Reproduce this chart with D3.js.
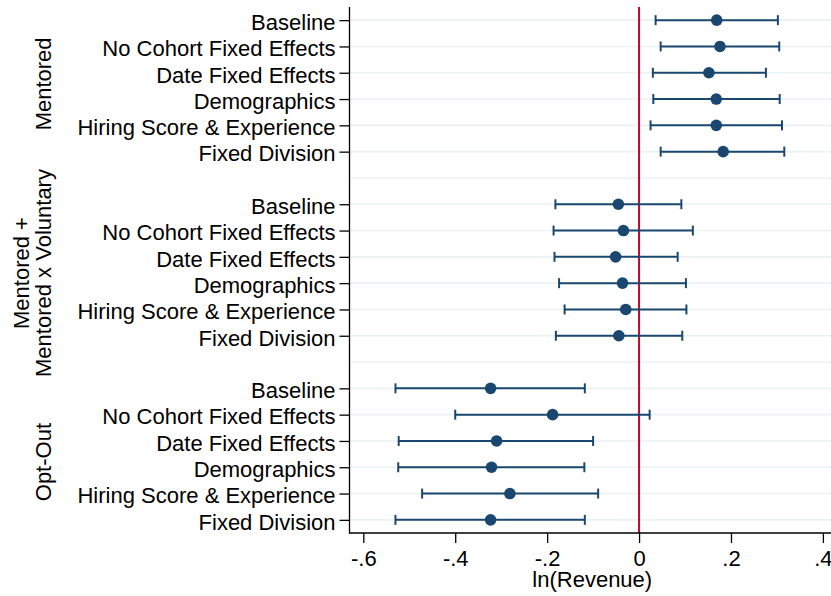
<!DOCTYPE html>
<html>
<head>
<meta charset="utf-8">
<script src="https://cdn.jsdelivr.net/npm/d3@7"></script>
<style>
  html, body { margin: 0; padding: 0; background: #fff; }
  svg text { font-family: "Liberation Sans", Arial, Helvetica, sans-serif; fill: #000; }
</style>
</head>
<body>
<svg id="chart" width="831" height="596"></svg>
<script>
// ---- Data ----
const specifications = ["Baseline", "No Cohort Fixed Effects", "Date Fixed Effects", "Demographics", "Hiring Score & Experience", "Fixed Division"];
const groupLabels = [["Mentored"], ["Mentored +", "Mentored x Voluntary"], ["Opt-Out"]];

const mentoredEst   = [0.169, 0.176, 0.152, 0.168, 0.168, 0.183];
const mentoredLow   = [0.036, 0.047, 0.030, 0.031, 0.025, 0.047];
const mentoredHigh  = [0.302, 0.305, 0.276, 0.306, 0.311, 0.316];

const voluntaryEst  = [-0.045, -0.034, -0.051, -0.036, -0.029, -0.044];
const voluntaryLow  = [-0.182, -0.186, -0.184, -0.174, -0.162, -0.181];
const voluntaryHigh = [0.092, 0.117, 0.084, 0.102, 0.103, 0.094];

const optOutEst     = [-0.323, -0.188, -0.310, -0.321, -0.281, -0.323];
const optOutLow     = [-0.530, -0.400, -0.523, -0.524, -0.472, -0.530];
const optOutHigh    = [-0.118, 0.023, -0.100, -0.119, -0.089, -0.118];

const xTicks = [-0.6, -0.4, -0.2, 0, 0.2, 0.4];
const xTickLabels = ["-.6", "-.4", "-.2", "0", ".2", ".4"];
const xTitle = "ln(Revenue)";

(function () {
// ---- Build rows ----
const groups = [
  {est: mentoredEst, lo: mentoredLow, hi: mentoredHigh},
  {est: voluntaryEst, lo: voluntaryLow, hi: voluntaryHigh},
  {est: optOutEst, lo: optOutLow, hi: optOutHigh}
];
const rows = [];
groups.forEach((g, gi) => {
  specifications.forEach((s, si) => {
    rows.push({group: gi, label: s, pos: gi * (specifications.length + 1) + si,
               est: g.est[si], lo: g.lo[si], hi: g.hi[si]});
  });
});
const nPos = groups.length * (specifications.length + 1) - 1; // 20

// ---- Layout ----
const svg = d3.select("#chart");
const pLeft = 349.5, pRight = 831, pTop = 7, pBottom = 533;
const fontSize = 22;
const navy = "#1a476f";
const red = "#c10534";
const groupLabelShift = [-2, 3, 8];

const x = d3.scaleLinear().domain([-0.6, 0.4]).range([363.3, 822.9]);
const y = d3.scaleLinear().domain([-0.5, nPos - 0.5]).range([pTop, pBottom]);

// gridlines (every position, including gaps)
svg.append("g").selectAll("line").data(d3.range(nPos)).join("line")
  .attr("x1", pLeft).attr("x2", pRight)
  .attr("y1", d => y(d)).attr("y2", d => y(d))
  .attr("stroke", "#eaf2f3").attr("stroke-width", 1.6);

// zero reference line
svg.append("line")
  .attr("x1", x(0)).attr("x2", x(0)).attr("y1", pTop).attr("y2", pBottom)
  .attr("stroke", red).attr("stroke-width", 2);

// x axis
const xAxis = d3.axisBottom(x).tickValues(xTicks)
  .tickFormat((d, i) => xTickLabels[i]).tickSize(10).tickPadding(7).tickSizeOuter(0);
const gx = svg.append("g").attr("transform", `translate(0,${pBottom})`).call(xAxis);
gx.select(".domain").remove();
gx.append("line").attr("x1", pLeft - 0.5).attr("x2", pRight).attr("y1", 0).attr("y2", 0)
  .attr("stroke", "#000").attr("stroke-width", 1.3);
gx.selectAll(".tick line").attr("stroke", "#000").attr("stroke-width", 1.3);
gx.selectAll(".tick text").attr("font-size", fontSize).attr("font-family", "Liberation Sans, Arial, sans-serif").attr("fill", "#000");

// y axis
const yAxis = d3.axisLeft(y).tickValues(rows.map(r => r.pos))
  .tickFormat(d => rows.find(r => r.pos === d).label).tickSize(10).tickPadding(4).tickSizeOuter(0);
const gy = svg.append("g").attr("transform", `translate(${pLeft},0)`).call(yAxis);
gy.select(".domain").remove();
gy.append("line").attr("x1", 0).attr("x2", 0).attr("y1", pTop).attr("y2", pBottom + 0.6)
  .attr("stroke", "#000").attr("stroke-width", 1.3);
gy.selectAll(".tick line").attr("stroke", "#000").attr("stroke-width", 1.3);
gy.selectAll(".tick text").attr("font-size", fontSize).attr("dy", "0.42em")
  .attr("font-family", "Liberation Sans, Arial, sans-serif").attr("fill", "#000");

// x title
svg.append("text").attr("x", (pLeft + pRight) / 2 + 2).attr("y", 587)
  .attr("text-anchor", "middle").attr("font-size", fontSize).text(xTitle);

// group labels (rotated)
groupLabels.forEach((lines, gi) => {
  const p0 = gi * (specifications.length + 1);
  const cy = (y(p0) + y(p0 + specifications.length - 1)) / 2 + groupLabelShift[gi];
  const n = lines.length;
  lines.forEach((ln, li) => {
    const bx = 51 - (n - 1 - li) * 22;
    svg.append("text")
      .attr("transform", `translate(${bx},${cy}) rotate(-90)`)
      .attr("text-anchor", "middle").attr("font-size", fontSize).text(ln);
  });
});

// error bars
const marks = svg.append("g");
const capH = 5;
marks.selectAll("line.ci").data(rows).join("line").attr("class", "ci")
  .attr("x1", d => x(d.lo)).attr("x2", d => x(d.hi))
  .attr("y1", d => y(d.pos)).attr("y2", d => y(d.pos))
  .attr("stroke", navy).attr("stroke-width", 2);
marks.selectAll("line.capl").data(rows).join("line").attr("class", "capl")
  .attr("x1", d => x(d.lo)).attr("x2", d => x(d.lo))
  .attr("y1", d => y(d.pos) - capH).attr("y2", d => y(d.pos) + capH)
  .attr("stroke", navy).attr("stroke-width", 2);
marks.selectAll("line.caph").data(rows).join("line").attr("class", "caph")
  .attr("x1", d => x(d.hi)).attr("x2", d => x(d.hi))
  .attr("y1", d => y(d.pos) - capH).attr("y2", d => y(d.pos) + capH)
  .attr("stroke", navy).attr("stroke-width", 2);
marks.selectAll("circle").data(rows).join("circle")
  .attr("cx", d => x(d.est)).attr("cy", d => y(d.pos)).attr("r", 5.8)
  .attr("fill", navy);
})();
</script>
</body>
</html>
